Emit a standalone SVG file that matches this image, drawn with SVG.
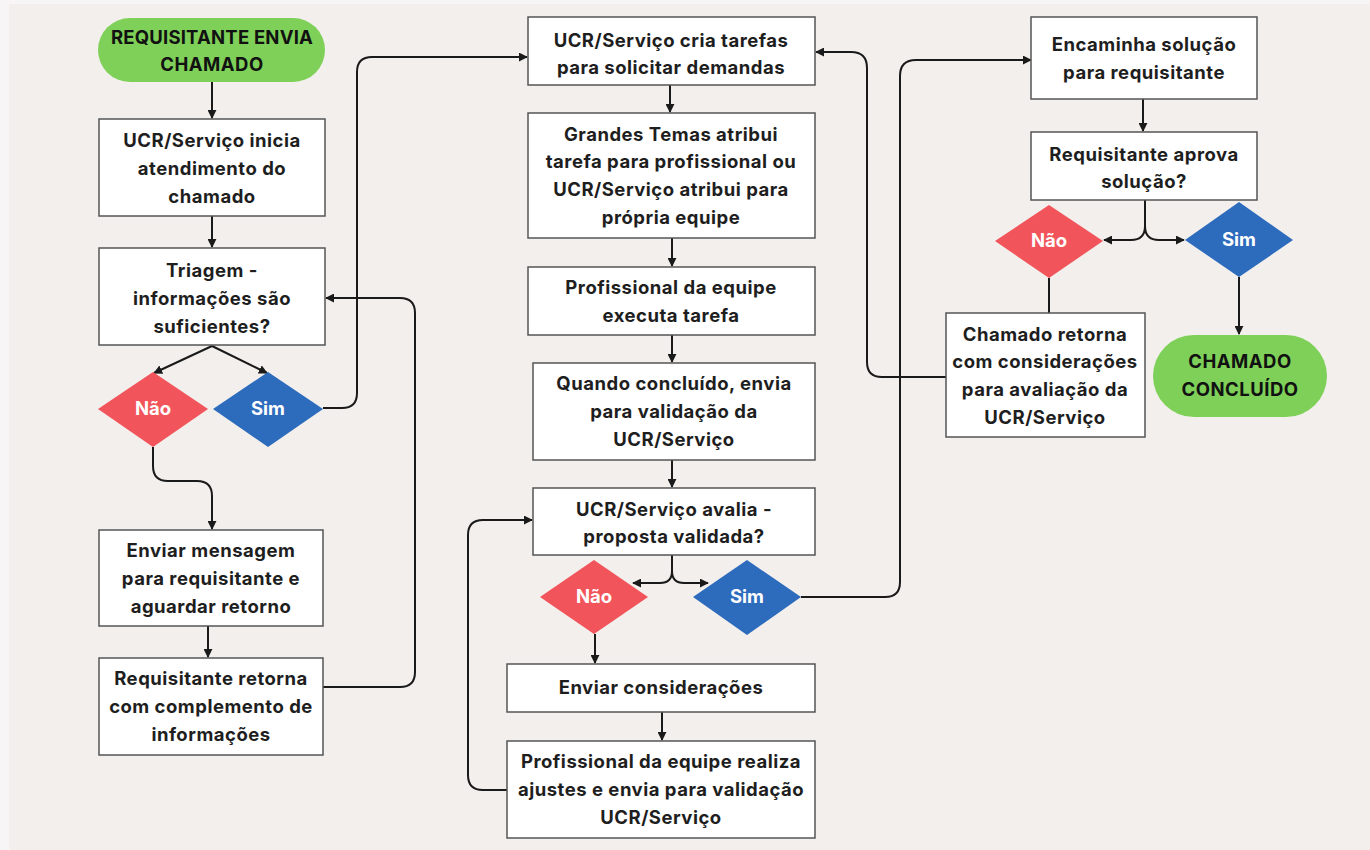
<svg xmlns="http://www.w3.org/2000/svg" width="1370" height="850" viewBox="0 0 1370 850">
<defs>
<marker id="ah" viewBox="0 0 10 10" refX="9" refY="5" markerWidth="9" markerHeight="9" markerUnits="userSpaceOnUse" orient="auto">
<path d="M0,0 L10,5 L0,10 z" fill="#1a1a1a"/>
</marker>
<style>
.box{fill:#ffffff;stroke:#555555;stroke-width:1.5}
.pill{fill:#7ed058}
.nao{fill:#f1555b}
.sim{fill:#2d6bbd}
.t{font-family:Inter,"Liberation Sans",sans-serif;font-weight:700;font-size:18.5px;letter-spacing:0.5px;fill:#1e1e1e;text-anchor:middle}
.tw{font-family:Inter,"Liberation Sans",sans-serif;font-weight:700;font-size:18.5px;fill:#ffffff;text-anchor:middle}
.c{fill:none;stroke:#1a1a1a;stroke-width:2}
.ca{fill:none;stroke:#1a1a1a;stroke-width:2;marker-end:url(#ah)}
</style>
</defs>
<rect x="0" y="0" width="1370" height="850" fill="#f7f5f5"/>
<rect x="9" y="4" width="1361" height="846" fill="#f3efec"/>

<g id="connectors">
<path class="ca" d="M212,82 V118"/>
<path class="ca" d="M212,216 V247"/>
<path class="ca" d="M212,346 L154,373"/>
<path class="ca" d="M212,346 L267,373"/>
<path class="ca" d="M153,447 V466 Q153,481 168,481 H197 Q212,481 212,496 V529"/>
<path class="ca" d="M323,408 H342 Q357,408 357,393 V72 Q357,57 372,57 H527"/>
<path class="ca" d="M208,626 V657"/>
<path class="ca" d="M323,687 H400 Q415,687 415,672 V313 Q415,298 400,298 H326"/>
<path class="ca" d="M670,85 V112"/>
<path class="ca" d="M672,238 V266"/>
<path class="ca" d="M672,335 V362"/>
<path class="ca" d="M672,460 V487"/>
<path class="ca" d="M672,555 V571 Q672,583 660,583 H633"/>
<path class="ca" d="M672,555 V571 Q672,583 684,583 H708"/>
<path class="ca" d="M595,634 V663"/>
<path class="ca" d="M662,712 V740"/>
<path class="ca" d="M507,790 H483 Q468,790 468,775 V535 Q468,520 483,520 H532"/>
<path class="ca" d="M801,597 H885 Q900,597 900,582 V76 Q900,60 916,60 H1031"/>
<path class="ca" d="M1143,99 V131"/>
<path class="ca" d="M1145,200 V226 Q1145,240 1131,240 H1104"/>
<path class="ca" d="M1145,200 V226 Q1145,240 1159,240 H1184"/>
<path class="c" d="M1049,278 V313"/>
<path class="ca" d="M946,377 H882 Q867,377 867,362 V68 Q867,52 851,52 H816"/>
<path class="ca" d="M1239,277 V334"/>
</g>

<g id="start">
<rect class="pill" x="98" y="18" width="227" height="64" rx="32"/>
<text class="t" x="212" y="44" style="fill:#111;letter-spacing:0.2px">REQUISITANTE ENVIA</text>
<text class="t" x="212" y="71" style="fill:#111">CHAMADO</text>
</g>
<g id="inicia">
<rect class="box" x="99" y="119" width="226" height="97"/>
<text class="t" x="212" y="147">UCR/Serviço inicia</text>
<text class="t" x="212" y="175">atendimento do</text>
<text class="t" x="212" y="203">chamado</text>
</g>
<g id="triagem">
<rect class="box" x="99" y="248" width="226" height="97"/>
<text class="t" x="212" y="277">Triagem -</text>
<text class="t" x="212" y="305">informações são</text>
<text class="t" x="212" y="333">suficientes?</text>
</g>
<g id="nao1">
<path class="nao" d="M153,372 L208,409 L153,447 L98,409 z"/>
<text class="tw" x="153" y="415">Não</text>
</g>
<g id="sim1">
<path class="sim" d="M268,372 L323,409 L268,447 L213,409 z"/>
<text class="tw" x="268" y="415">Sim</text>
</g>
<g id="mensagem">
<rect class="box" x="99" y="530" width="224" height="96"/>
<text class="t" x="211" y="557">Enviar mensagem</text>
<text class="t" x="211" y="585">para requisitante e</text>
<text class="t" x="211" y="613">aguardar retorno</text>
</g>
<g id="retorna">
<rect class="box" x="99" y="658" width="224" height="97"/>
<text class="t" x="211" y="685">Requisitante retorna</text>
<text class="t" x="211" y="713">com complemento de</text>
<text class="t" x="211" y="741">informações</text>
</g>

<g id="cria">
<rect class="box" x="528" y="17" width="287" height="68"/>
<text class="t" x="671" y="47">UCR/Serviço cria tarefas</text>
<text class="t" x="671" y="74">para solicitar demandas</text>
</g>
<g id="grandes">
<rect class="box" x="528" y="113" width="287" height="125"/>
<text class="t" x="671" y="141">Grandes Temas atribui</text>
<text class="t" x="671" y="168">tarefa para profissional ou</text>
<text class="t" x="671" y="196">UCR/Serviço atribui para</text>
<text class="t" x="671" y="224">própria equipe</text>
</g>
<g id="executa">
<rect class="box" x="528" y="267" width="287" height="68"/>
<text class="t" x="671" y="294">Profissional da equipe</text>
<text class="t" x="671" y="322">executa tarefa</text>
</g>
<g id="concluido">
<rect class="box" x="533" y="363" width="282" height="97"/>
<text class="t" x="674" y="390">Quando concluído, envia</text>
<text class="t" x="674" y="418">para validação da</text>
<text class="t" x="674" y="446">UCR/Serviço</text>
</g>
<g id="avalia">
<rect class="box" x="533" y="488" width="282" height="67"/>
<text class="t" x="674" y="516">UCR/Serviço avalia -</text>
<text class="t" x="674" y="543">proposta validada?</text>
</g>
<g id="nao2">
<path class="nao" d="M594,560 L648,597 L594,634 L540,597 z"/>
<text class="tw" x="594" y="603">Não</text>
</g>
<g id="sim2">
<path class="sim" d="M747,560 L801,597 L747,635 L693,597 z"/>
<text class="tw" x="747" y="603">Sim</text>
</g>
<g id="consideracoes">
<rect class="box" x="507" y="664" width="308" height="48"/>
<text class="t" x="661" y="694">Enviar considerações</text>
</g>
<g id="ajustes">
<rect class="box" x="507" y="741" width="308" height="97"/>
<text class="t" x="661" y="768">Profissional da equipe realiza</text>
<text class="t" x="661" y="796">ajustes e envia para validação</text>
<text class="t" x="661" y="824">UCR/Serviço</text>
</g>

<g id="encaminha">
<rect class="box" x="1031" y="17" width="226" height="82"/>
<text class="t" x="1144" y="51">Encaminha solução</text>
<text class="t" x="1144" y="79">para requisitante</text>
</g>
<g id="aprova">
<rect class="box" x="1031" y="132" width="226" height="68"/>
<text class="t" x="1144" y="161">Requisitante aprova</text>
<text class="t" x="1144" y="188">solução?</text>
</g>
<g id="nao3">
<path class="nao" d="M1049,205 L1103,241 L1049,278 L995,241 z"/>
<text class="tw" x="1049" y="247">Não</text>
</g>
<g id="sim3">
<path class="sim" d="M1239,202 L1293,240 L1239,277 L1185,240 z"/>
<text class="tw" x="1239" y="246">Sim</text>
</g>
<g id="chamado-retorna">
<rect class="box" x="946" y="313" width="199" height="124"/>
<text class="t" x="1045" y="341">Chamado retorna</text>
<text class="t" x="1045" y="368">com considerações</text>
<text class="t" x="1045" y="396">para avaliação da</text>
<text class="t" x="1045" y="424">UCR/Serviço</text>
</g>
<g id="fim">
<rect class="pill" x="1153" y="335" width="174" height="82" rx="41"/>
<text class="t" x="1240" y="368" style="fill:#111">CHAMADO</text>
<text class="t" x="1240" y="396" style="fill:#111">CONCLUÍDO</text>
</g>
</svg>
